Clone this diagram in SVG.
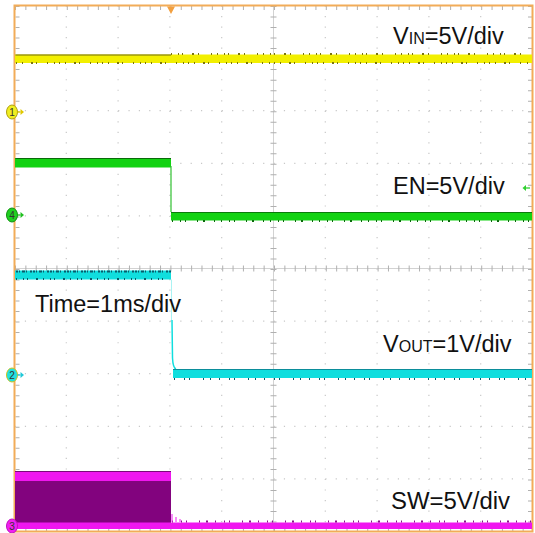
<svg xmlns="http://www.w3.org/2000/svg" width="535" height="533" viewBox="0 0 535 533">
<defs>
<style>
.grid{fill:none;stroke:#c8c8c8;stroke-width:1.2;stroke-dasharray:1.2 9.16}
.gridv{fill:none;stroke:#c8c8c8;stroke-width:1.2;stroke-dasharray:1.2 9.32}
.axis{fill:none;stroke:#d2d2d2;stroke-width:1}
.frame{fill:none;stroke:#f2ac58;stroke-width:2}
.lbl{font-family:"Liberation Sans",Arial,Helvetica,sans-serif;font-size:23.5px;fill:#111}
.sm{font-size:16px}
.mk{font-family:"Liberation Sans",Arial,sans-serif;font-size:10px;fill:#333;text-anchor:middle}
.noise{fill:none;stroke-width:2}
</style>
</defs>
<rect width="535" height="533" fill="#ffffff"/>

<g id="grid">
<path class="gridv" d="M66.3,5.5V531.5M118.1,5.5V531.5M169.9,5.5V531.5M221.7,5.5V531.5M325.3,5.5V531.5M377.1,5.5V531.5M428.9,5.5V531.5M480.7,5.5V531.5"/>
<path class="grid" d="M14.5,58.1H532.5M14.5,110.7H532.5M14.5,163.3H532.5M14.5,215.9H532.5M14.5,321.1H532.5M14.5,373.7H532.5M14.5,426.3H532.5M14.5,478.9H532.5"/>
<path class="axis" d="M273.5,5.5V531.5M14.5,268.5H532.5"/>
<path fill="none" stroke="#b0b0b0" stroke-width="6" stroke-dasharray="1 9.52" d="M273.5,6V531.5"/>
<path fill="none" stroke="#b0b0b0" stroke-width="6" stroke-dasharray="1 9.36" d="M15,268.5H532.5"/>
<path fill="none" stroke="#b0b0b0" stroke-width="4" stroke-dasharray="1 9.52" d="M17.5,6V531.5M530,6V531.5"/>
<path fill="none" stroke="#b0b0b0" stroke-width="4" stroke-dasharray="1 9.36" d="M15,8H532.5M15,529H532.5"/>
</g>

<g id="frame">
<rect class="frame" x="14.5" y="5.5" width="518" height="526"/>
<path id="trigger" d="M167,6.5H175L171,14Z" fill="#f2a040"/>
</g>

<g id="vin-trace">
<rect x="15" y="54.5" width="517" height="8.5" fill="#f2ef00"/>
<path d="M15.5,55H171" stroke="#6e6a10" stroke-width="1.2"/>
<path class="noise" stroke="#7a7410" stroke-dasharray="1 6 1 3 1 9 2 4 1 12 1 5" d="M171,54H532"/>
<path class="noise" stroke="#7a7410" stroke-dasharray="1 5 1 8 2 3 1 10 1 6 1 4" d="M16,63H532"/>
</g>

<g id="en-trace">
<rect x="15" y="158" width="156" height="9.5" fill="#12d212"/>
<path d="M15.5,158.5H171" stroke="#0a6a0a" stroke-width="1"/>
<path d="M171,166V212" stroke="#30c030" stroke-width="1.2"/>
<rect x="171" y="212" width="361" height="8.5" fill="#12d212"/>
<path d="M171,212.5H532" stroke="#0a7a0a" stroke-width="1"/>
<path class="noise" stroke="#0a6a0a" stroke-dasharray="1 7 1 4 1 11 1 5 2 9 1 6" d="M172,221H532"/>
</g>

<g id="vout-trace">
<rect x="15" y="270.5" width="156" height="9" fill="#10dede"/>
<path class="noise" stroke="#0a5a6a" stroke-dasharray="2 1 1 2 3 1 1 3 2 1" d="M16,271.5H171"/>
<path class="noise" stroke="#0a5a6a" stroke-dasharray="1 6 1 3 1 8 2 5" d="M16,279H171"/>
<path d="M171.5,279.5V320" stroke="#10dede" stroke-width="1" opacity="0.35"/>
<path d="M172,320L172.5,358Q173,368 176,369" fill="none" stroke="#10dede" stroke-width="1.5"/>
<rect x="173" y="369" width="359" height="9" fill="#10dede"/>
<path d="M173,369.5H532" stroke="#0a7a8a" stroke-width="0.8"/>
<path class="noise" stroke="#0a5a6a" stroke-dasharray="1 9 1 4 1 13 1 6 1 8" d="M174,379H532"/>
</g>

<g id="sw-trace">
<rect x="15" y="471" width="156" height="58" fill="#82037e"/>
<rect x="15" y="472" width="156" height="9" fill="#f016f0"/>
<path d="M15,471.5H171" stroke="#7a0a7a" stroke-width="1"/>
<rect x="15" y="522.5" width="517" height="6.5" fill="#f016f0"/>
<path class="noise" stroke="#8a108a" stroke-dasharray="1 8 1 4 1 12 1 6 2 7" d="M172,521.5H532"/>
<path d="M172,514V522M176,517V522M180,519V522" stroke="#f016f0" stroke-width="1"/>
</g>

<g id="markers">
<g id="m1">
<ellipse cx="12" cy="112" rx="5.5" ry="7" fill="#f0ee20" stroke="#b0a010" stroke-width="1"/>
<text class="mk" x="12" y="115.5">1</text>
<path d="M17.5,112H20.5" stroke="#e0c800" stroke-width="1.3"/><path d="M20.5,109L24,112L20.5,115Z" fill="#e0c800"/>
</g>
<g id="m4">
<ellipse cx="12" cy="215" rx="5.5" ry="7" fill="#20d020" stroke="#109010" stroke-width="1"/>
<text class="mk" x="12" y="218.5">4</text>
<path d="M17.5,215H20.5" stroke="#20c020" stroke-width="1.3"/><path d="M20.5,212L24,215L20.5,218Z" fill="#20c020"/>
</g>
<g id="m2">
<ellipse cx="12" cy="375" rx="5.5" ry="7" fill="#20e0e0" stroke="#d0c020" stroke-width="1"/>
<text class="mk" x="12" y="378.5">2</text>
<path d="M17.5,375H20.5" stroke="#20c8d8" stroke-width="1.3"/><path d="M20.5,372L24,375L20.5,378Z" fill="#20c8d8"/>
</g>
<g id="m3">
<ellipse cx="12" cy="526" rx="5.5" ry="7" fill="#f020f0" stroke="#c010c0" stroke-width="1"/>
<text class="mk" x="12" y="529.5">3</text>
</g>
<g id="en-level">
<path d="M526,188H530" stroke="#30d030" stroke-width="1.3"/><path d="M526,185L522.5,188L526,191Z" fill="#30d030"/>
</g>
</g>

<g id="labels">
<text class="lbl" x="393" y="44">V<tspan class="sm">IN</tspan>=5V/div</text>
<text class="lbl" x="393" y="194">EN=5V/div</text>
<text class="lbl" x="35" y="312">Time=1ms/div</text>
<text class="lbl" x="383" y="352">V<tspan class="sm">OUT</tspan>=1V/div</text>
<text class="lbl" x="391" y="509" textLength="119" lengthAdjust="spacingAndGlyphs">SW=5V/div</text>
</g>
</svg>
